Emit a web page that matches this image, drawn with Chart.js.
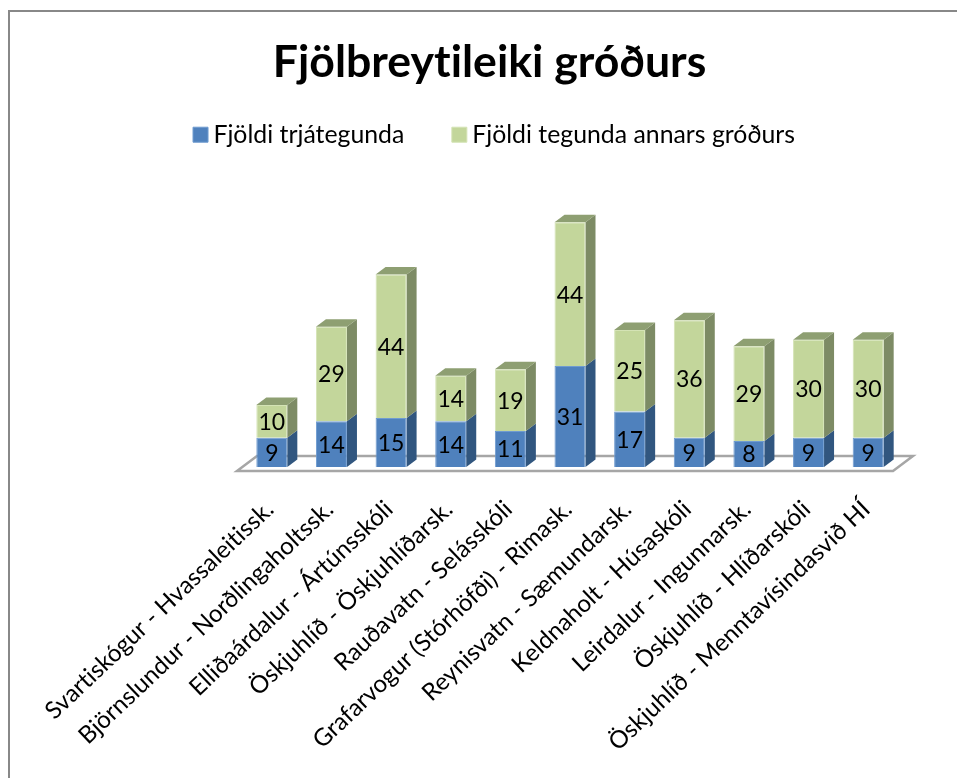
<!DOCTYPE html>
<html>
<head>
<meta charset="utf-8">
<title>Fjölbreytileiki gróðurs</title>
<script src="https://cdn.jsdelivr.net/npm/chart.js@4"></script>
<style>
    html, body { margin: 0; padding: 0; background: #fff; overflow: hidden; }
    #frame { position: absolute; left: 8px; top: 10px; right: 0; bottom: 0; border-left: 2px solid #888; border-top: 2px solid #888; }
    #chart { position: absolute; left: 0; top: 0; }
</style>
</head>
<body>
<div id="frame"></div>
<canvas id="chart" width="957" height="778"></canvas>
<script>
const chartTitle = "Fjölbreytileiki gróðurs";
const categories = [
    "Svartiskógur - Hvassaleitissk.",
    "Björnslundur - Norðlingaholtssk.",
    "Elliðaárdalur - Ártúnsskóli",
    "Öskjuhlíð - Öskjuhlíðarsk.",
    "Rauðavatn - Selásskóli",
    "Grafarvogur (Stórhöfði) - Rimask.",
    "Reynisvatn - Sæmundarsk.",
    "Keldnaholt - Húsaskóli",
    "Leirdalur - Ingunnarsk.",
    "Öskjuhlíð - Hlíðarskóli",
    "Öskjuhlíð - Menntavísindasvið HÍ"
];
const trees = [9, 14, 15, 14, 11, 31, 17, 9, 8, 9, 9];
const otherPlants = [10, 29, 44, 14, 19, 44, 25, 36, 29, 30, 30];

const FONT = "Lato, 'Open Sans', sans-serif";
const DEPTH_X = 10;
const DEPTH_Y = 7.5;

function poly(ctx, points, fill) {
    ctx.beginPath();
    ctx.moveTo(points[0][0], points[0][1]);
    points.slice(1).forEach(p => ctx.lineTo(p[0], p[1]));
    ctx.closePath();
    ctx.fillStyle = fill;
    ctx.fill();
}

// the fake 3d look: floor plate, then side and top of every bar
const depthPlugin = {
    id: "depth",
    beforeUpdate(chart) {
        // a tiny letter spacing stops Lato's "ti" ligature
        chart.ctx.letterSpacing = "0.01px";
    },
    afterLayout(chart) {
        // legend sits a bit right of the title in the original
        chart.legend.left += 8;
        chart.legend.right += 8;
    },
    beforeDatasetsDraw(chart) {
        const ctx = chart.ctx;
        const area = chart.chartArea;
        ctx.save();
        ctx.beginPath();
        ctx.moveTo(area.left - 5, area.bottom + 4);
        ctx.lineTo(area.right - 5, area.bottom + 4);
        ctx.lineTo(area.right + 15, area.bottom - 11);
        ctx.lineTo(area.left + 15, area.bottom - 11);
        ctx.closePath();
        ctx.lineWidth = 2.5;
        ctx.strokeStyle = "#a6a6a6";
        ctx.stroke();

        chart.data.datasets.forEach((ds, d) => {
            chart.getDatasetMeta(d).data.forEach(bar => {
                const right = bar.x + bar.width / 2;
                const left = bar.x - bar.width / 2;
                poly(ctx, [
                    [right, bar.y],
                    [right + DEPTH_X, bar.y - DEPTH_Y],
                    [right + DEPTH_X, bar.base - DEPTH_Y],
                    [right, bar.base]
                ], ds.sideColor);
                if (d === chart.data.datasets.length - 1) {
                    poly(ctx, [
                        [left, bar.y],
                        [left + DEPTH_X, bar.y - DEPTH_Y],
                        [right + DEPTH_X, bar.y - DEPTH_Y],
                        [right, bar.y]
                    ], ds.topColor);
                }
            });
        });
        ctx.restore();
    },
    afterDatasetsDraw(chart) {
        // value labels in the middle of each segment
        const ctx = chart.ctx;
        ctx.save();
        ctx.font = "23px " + FONT;
        ctx.fillStyle = "#000";
        ctx.textAlign = "center";
        ctx.textBaseline = "middle";
        chart.data.datasets.forEach((ds, d) => {
            chart.getDatasetMeta(d).data.forEach((bar, i) => {
                ctx.fillText(ds.data[i], bar.x, (bar.y + bar.base) / 2 + 1);
            });
        });
        ctx.restore();
    }
};

function main() {
    const ctx = document.getElementById("chart").getContext("2d");
    new Chart(ctx, {
        type: "bar",
        plugins: [depthPlugin],
        data: {
            labels: categories,
            datasets: [
                {
                    label: "Fjöldi trjátegunda",
                    data: trees,
                    backgroundColor: "#4f81bd",
                    borderColor: "#6f9bd0",
                    borderWidth: 1,
                    sideColor: "#31567f",
                    topColor: "#3f679a"
                },
                {
                    label: "Fjöldi tegunda annars gróðurs",
                    data: otherPlants,
                    backgroundColor: "#c3d69b",
                    borderColor: "#d4e3b5",
                    borderWidth: 1,
                    sideColor: "#7d8b65",
                    topColor: "#8e9f72"
                }
            ]
        },
        options: {
            responsive: false,
            animation: false,
            layout: { padding: { left: 22 } },
            datasets: { bar: { categoryPercentage: 1, barPercentage: 0.52 } },
            plugins: {
                tooltip: { enabled: false },
                title: {
                    display: true,
                    text: chartTitle,
                    color: "#000",
                    font: { family: FONT, size: 44.6, weight: "bold", lineHeight: 0.22 },
                    padding: { top: 58, bottom: 0 }
                },
                legend: {
                    display: true,
                    position: "top",
                    labels: {
                        usePointStyle: true,
                        pointStyle: "rect",
                        boxWidth: 1,
                        boxHeight: 15,
                        padding: 54.5,
                        color: "#000",
                        font: { family: FONT, size: 24.8 }
                    }
                }
            },
            scales: {
                x: {
                    stacked: true,
                    grid: { display: false },
                    border: { display: false },
                    ticks: {
                        autoSkip: false,
                        minRotation: 43.5,
                        maxRotation: 43.5,
                        padding: 20,
                        labelOffset: -2,
                        color: "#000",
                        font: { family: FONT, size: 24.1 }
                    },
                    afterFit(scale) {
                        scale.height = 311;
                        scale.paddingLeft = 242;
                        scale.paddingRight = 59;
                    }
                },
                y: {
                    stacked: true,
                    display: false,
                    min: 0,
                    max: 95
                }
            }
        }
    });
}

document.addEventListener("DOMContentLoaded", () => {
    main();
});
</script>
</body>
</html>
